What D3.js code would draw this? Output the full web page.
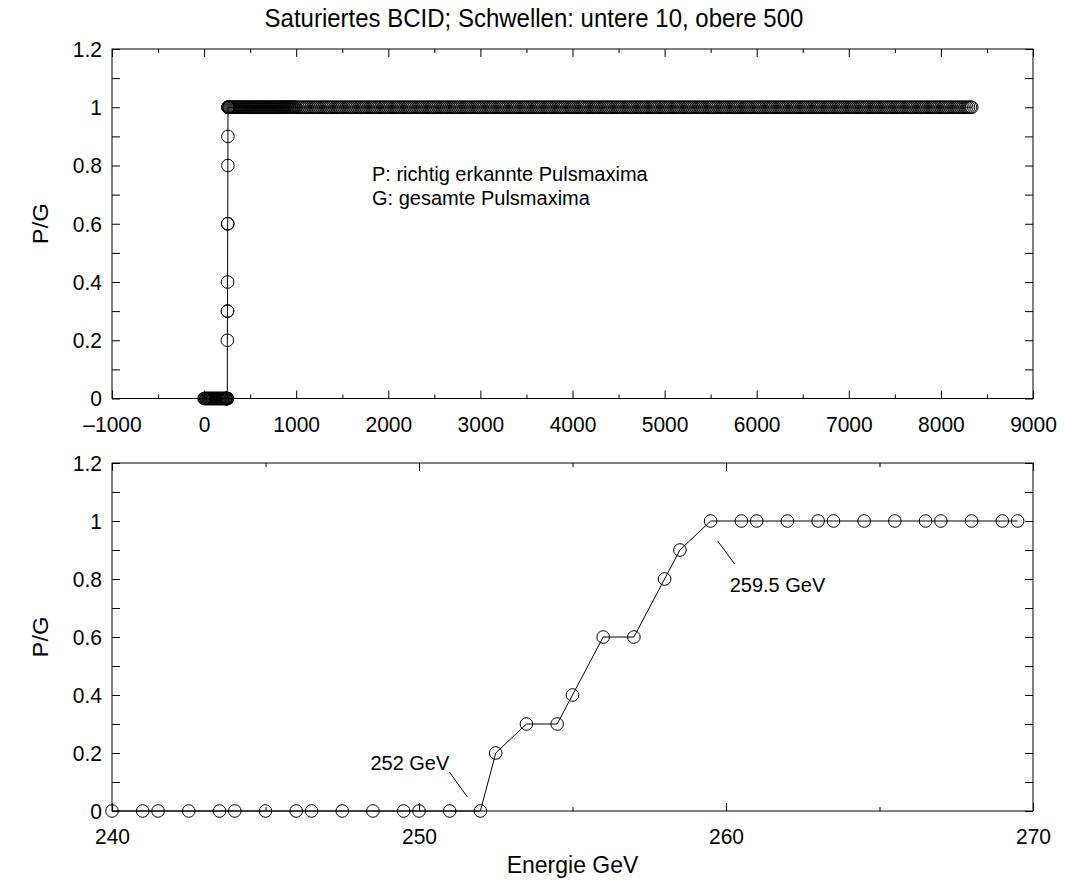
<!DOCTYPE html>
<html>
<head>
<meta charset="utf-8">
<script src="https://cdn.jsdelivr.net/npm/d3@7"></script>
<style>
  body { margin: 0; background: #fff; }
  text { font-family: "Liberation Sans", Arial, Helvetica, sans-serif; fill: #000; }
  /* tall Helvetica look of the plot labels */
  .tall { transform-box: fill-box; transform-origin: center; transform: scaleY(1.08); }
</style>
</head>
<body>
<svg id="chart" width="1068" height="886"></svg>
<script>
// ---- texts ----
const titleText = "Saturiertes BCID; Schwellen: untere 10, obere 500";
const yTitle = "P/G";
const xTitle = "Energie GeV";
const legendLines = ["P: richtig erkannte Pulsmaxima", "G: gesamte Pulsmaxima"];
const thresholdNotes = ["252 GeV", "259.5 GeV"];

// ---- detail scan around the threshold (GeV, P/G) ----
const detailEnergy = [240, 241, 241.5, 242.5, 243.5, 244, 245, 246, 246.5, 247.5, 248.5, 249.5, 250, 251, 252,
  252.5, 253.5, 254.5, 255, 256, 257, 258, 258.5,
  259.5, 260.5, 261, 262, 263, 263.5, 264.5, 265.5, 266.5, 267, 268, 269, 269.5];
const detailRatio = [0, 0, 0, 0, 0, 0, 0, 0, 0, 0, 0, 0, 0, 0, 0,
  0.2, 0.3, 0.3, 0.4, 0.6, 0.6, 0.8, 0.9,
  1, 1, 1, 1, 1, 1, 1, 1, 1, 1, 1, 1, 1];

// ---- full scan below the detail window: no maxima found ----
const lowEnergy = [0, 8, 17, 25, 33, 42, 50, 58, 67, 75, 83, 92, 100, 108, 117, 125, 133, 142, 150, 158,
  167, 175, 183, 192, 200, 208, 217, 225, 233];
const lowLevel = 0;

// ---- full scan above the detail window: all maxima found ----
const highEnergy = [271, 282, 293, 304, 315, 326, 337, 348, 359, 370, 381, 392, 403, 414, 425, 436, 447, 458, 469, 480,
  491, 502, 513, 524, 535, 546, 557, 568, 579, 590, 601, 612, 623, 634, 645, 656, 667, 678, 689, 700,
  711, 722, 733, 744, 755, 766, 777, 788, 799, 810, 821, 832, 843, 854, 865, 876, 887, 898, 909, 920,
  931, 942, 953, 964, 975, 986,
  1000, 1020, 1040, 1060, 1080, 1100, 1120, 1140, 1160, 1180, 1200, 1220, 1240, 1260, 1280, 1300, 1320, 1340, 1360, 1380,
  1400, 1420, 1440, 1460, 1480, 1500, 1520, 1540, 1560, 1580, 1600, 1620, 1640, 1660, 1680, 1700, 1720, 1740, 1760, 1780,
  1800, 1820, 1840, 1860, 1880, 1900, 1920, 1940, 1960, 1980,
  2000, 2020, 2040, 2060, 2080, 2100, 2120, 2140, 2160, 2180, 2200, 2220, 2240, 2260, 2280, 2300, 2320, 2340, 2360, 2380,
  2400, 2420, 2440, 2460, 2480, 2500, 2520, 2540, 2560, 2580, 2600, 2620, 2640, 2660, 2680, 2700, 2720, 2740, 2760, 2780,
  2800, 2820, 2840, 2860, 2880, 2900, 2920, 2940, 2960, 2980,
  3000, 3020, 3040, 3060, 3080, 3100, 3120, 3140, 3160, 3180, 3200, 3220, 3240, 3260, 3280, 3300, 3320, 3340, 3360, 3380,
  3400, 3420, 3440, 3460, 3480, 3500, 3520, 3540, 3560, 3580, 3600, 3620, 3640, 3660, 3680, 3700, 3720, 3740, 3760, 3780,
  3800, 3820, 3840, 3860, 3880, 3900, 3920, 3940, 3960, 3980,
  4000, 4020, 4040, 4060, 4080, 4100, 4120, 4140, 4160, 4180, 4200, 4220, 4240, 4260, 4280, 4300, 4320, 4340, 4360, 4380,
  4400, 4420, 4440, 4460, 4480, 4500, 4520, 4540, 4560, 4580, 4600, 4620, 4640, 4660, 4680, 4700, 4720, 4740, 4760, 4780,
  4800, 4820, 4840, 4860, 4880, 4900, 4920, 4940, 4960, 4980,
  5000, 5020, 5040, 5060, 5080, 5100, 5120, 5140, 5160, 5180, 5200, 5220, 5240, 5260, 5280, 5300, 5320, 5340, 5360, 5380,
  5400, 5420, 5440, 5460, 5480, 5500, 5520, 5540, 5560, 5580, 5600, 5620, 5640, 5660, 5680, 5700, 5720, 5740, 5760, 5780,
  5800, 5820, 5840, 5860, 5880, 5900, 5920, 5940, 5960, 5980,
  6000, 6020, 6040, 6060, 6080, 6100, 6120, 6140, 6160, 6180, 6200, 6220, 6240, 6260, 6280, 6300, 6320, 6340, 6360, 6380,
  6400, 6420, 6440, 6460, 6480, 6500, 6520, 6540, 6560, 6580, 6600, 6620, 6640, 6660, 6680, 6700, 6720, 6740, 6760, 6780,
  6800, 6820, 6840, 6860, 6880, 6900, 6920, 6940, 6960, 6980,
  7000, 7020, 7040, 7060, 7080, 7100, 7120, 7140, 7160, 7180, 7200, 7220, 7240, 7260, 7280, 7300, 7320, 7340, 7360, 7380,
  7400, 7420, 7440, 7460, 7480, 7500, 7520, 7540, 7560, 7580, 7600, 7620, 7640, 7660, 7680, 7700, 7720, 7740, 7760, 7780,
  7800, 7820, 7840, 7860, 7880, 7900, 7920, 7940, 7960, 7980,
  8000, 8020, 8040, 8060, 8080, 8100, 8120, 8140, 8160, 8180, 8200, 8220, 8240, 8260, 8280, 8300, 8320, 8335];
const highLevel = 1;

// ---- tick values and labels ----
const topXMajor = [-1000, 0, 1000, 2000, 3000, 4000, 5000, 6000, 7000, 8000, 9000];
const topXMinor = [-500, 500, 1500, 2500, 3500, 4500, 5500, 6500, 7500, 8500];
const botXMajor = [240, 250, 260, 270];
const botXMinor = [245, 255, 265];
const yMajor = [0, 0.2, 0.4, 0.6, 0.8, 1, 1.2];
const yMinor = [0.1, 0.3, 0.5, 0.7, 0.9, 1.1];
const yTickLabels = ["0", "0.2", "0.4", "0.6", "0.8", "1", "1.2"];

// ---- assemble point lists ----
const detailPoints = detailEnergy.map((e, i) => ({ e, r: detailRatio[i] }));
const fullPoints = []
  .concat(lowEnergy.map(e => ({ e, r: lowLevel })))
  .concat(detailPoints)
  .concat(highEnergy.map(e => ({ e, r: highLevel })));

// ---- layout ----
const svg = d3.select("#chart");
const W = 1068;
const left = 112, right = 1033;
const topPanel = { top: 49, bottom: 398.5 };
const botPanel = { top: 463, bottom: 811 };
const tickFont = 21;
const noteFont = 20;
const markR = 6.3;

const xTop = d3.scaleLinear().domain([-1000, 9000]).range([left, right]);
const yTop = d3.scaleLinear().domain([0, 1.2]).range([topPanel.bottom, topPanel.top]);
const xBot = d3.scaleLinear().domain([240, 270]).range([left, right]);
const yBot = d3.scaleLinear().domain([0, 1.2]).range([botPanel.bottom, botPanel.top]);

const yFmt = v => yTickLabels[yMajor.indexOf(v)];

function drawFrame(x, y, xMajor, xMinor, xFmt, panel) {
  const g = svg.append("g");
  // inward ticks on all four sides
  const axes = [
    { ax: d3.axisBottom(x).tickValues(xMajor).tickSize(-8).tickPadding(18).tickFormat(xFmt), t: `translate(0,${panel.bottom})` },
    { ax: d3.axisBottom(x).tickValues(xMinor).tickSize(-4).tickFormat(""), t: `translate(0,${panel.bottom})` },
    { ax: d3.axisTop(x).tickValues(xMajor).tickSize(-8).tickFormat(""), t: `translate(0,${panel.top})` },
    { ax: d3.axisTop(x).tickValues(xMinor).tickSize(-4).tickFormat(""), t: `translate(0,${panel.top})` },
    { ax: d3.axisLeft(y).tickValues(yMajor).tickSize(-8).tickPadding(10).tickFormat(yFmt), t: `translate(${left},0)` },
    { ax: d3.axisLeft(y).tickValues(yMinor).tickSize(-8).tickFormat(""), t: `translate(${left},0)` },
    { ax: d3.axisRight(y).tickValues(yMajor.concat(yMinor)).tickSize(-8).tickFormat(""), t: `translate(${right},0)` }
  ];
  axes.forEach(a => {
    const ag = g.append("g").attr("transform", a.t).call(a.ax);
    ag.attr("font-family", null).attr("font-size", null);
    ag.select(".domain").remove();
    ag.selectAll(".tick line").attr("stroke", "#000").attr("stroke-width", 1);
    ag.selectAll("text").attr("class", "tall").attr("font-size", tickFont).attr("fill", "#000");
  });
  g.append("rect")
    .attr("x", left).attr("y", panel.top)
    .attr("width", right - left).attr("height", panel.bottom - panel.top)
    .attr("fill", "none").attr("stroke", "#000").attr("stroke-width", 1);
}

function drawSeries(points, x, y) {
  const g = svg.append("g");
  g.append("path")
    .datum(points)
    .attr("fill", "none").attr("stroke", "#000").attr("stroke-width", 1)
    .attr("d", d3.line().x(d => x(d.e)).y(d => y(d.r)));
  g.selectAll("circle").data(points).join("circle")
    .attr("cx", d => x(d.e)).attr("cy", d => y(d.r)).attr("r", markR)
    .attr("fill", "none").attr("stroke", "#000").attr("stroke-width", 1);
}

// ---- upper panel: full energy range ----
drawFrame(xTop, yTop, topXMajor, topXMinor, v => (v < 0 ? "\u2013" + Math.abs(v) : String(v)), topPanel);
drawSeries(fullPoints, xTop, yTop);

// ---- lower panel: threshold region ----
drawFrame(xBot, yBot, botXMajor, botXMinor, v => String(v), botPanel);
drawSeries(detailPoints, xBot, yBot);

// ---- titles ----
svg.append("text").attr("class", "tall").attr("x", W / 2).attr("y", 26)
  .attr("text-anchor", "middle").attr("font-size", 24).text(titleText);
svg.append("text").attr("class", "tall").attr("x", (left + right) / 2).attr("y", 872)
  .attr("text-anchor", "middle").attr("font-size", 23).text(xTitle);
[topPanel, botPanel].forEach(p => {
  svg.append("text")
    .attr("transform", `translate(48,${(p.top + p.bottom) / 2}) rotate(-90) scale(1.08,1)`)
    .attr("text-anchor", "middle").attr("font-size", 22).text(yTitle);
});

// ---- legend note in the upper panel ----
legendLines.forEach((s, i) => {
  svg.append("text").attr("x", 372).attr("y", 181 + i * 24)
    .attr("font-size", noteFont).text(s);
});

// ---- threshold annotations in the lower panel ----
const lowEdge = detailPoints.find(d => d.e === 252);
const highEdge = detailPoints.find(d => d.e === 259.5);
svg.append("line")
  .attr("x1", xBot(lowEdge.e) - 31).attr("y1", yBot(lowEdge.r) - 39)
  .attr("x2", xBot(lowEdge.e) - 13).attr("y2", yBot(lowEdge.r) - 14)
  .attr("stroke", "#000").attr("stroke-width", 1);
svg.append("text").attr("x", xBot(lowEdge.e) - 110).attr("y", yBot(lowEdge.r) - 41)
  .attr("font-size", noteFont).text(thresholdNotes[0]);
svg.append("line")
  .attr("x1", xBot(highEdge.e) + 7).attr("y1", yBot(highEdge.r) + 20)
  .attr("x2", xBot(highEdge.e) + 24).attr("y2", yBot(highEdge.r) + 43)
  .attr("stroke", "#000").attr("stroke-width", 1);
svg.append("text").attr("x", xBot(highEdge.e) + 19).attr("y", yBot(highEdge.r) + 71)
  .attr("font-size", noteFont).text(thresholdNotes[1]);
</script>
</body>
</html>
